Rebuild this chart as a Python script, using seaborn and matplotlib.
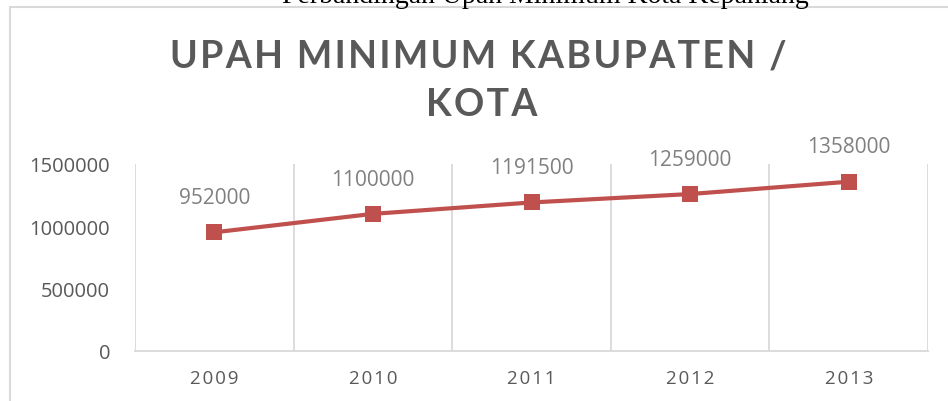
import matplotlib
matplotlib.use("Agg")
import matplotlib.pyplot as plt
import seaborn as sns
from matplotlib.patches import Rectangle

# data
years = ["2009", "2010", "2011", "2012", "2013"]
upah = [952000, 1100000, 1191500, 1259000, 1358000]
yticks = [0, 500000, 1000000, 1500000]

title_lines = ["UPAH MINIMUM KABUPATEN /", "KOTA"]
caption = "Perbandingan Upah Minimum Kota Kepahiang"

sns.set_theme(style="white")
plt.rcParams["font.family"] = ["Open Sans", "DejaVu Sans"]

grey_txt = "#595959"
grid_c = "#d9d9d9"
red = "#C0504D"
HS = "\u200a"  # hair space, fake letter spacing

fig = plt.figure(figsize=(9.48, 4.02), dpi=100)
ax = fig.add_axes([135 / 948, 1 - 352 / 402, (928 - 135) / 948, (352 - 165) / 402])

pos = list(range(len(years)))
sns.lineplot(x=pos, y=upah, ax=ax, color=red, linewidth=3, marker="s",
             markersize=12, markeredgecolor=red, markeredgewidth=0)

for x, v in zip(pos, upah):
    ax.annotate(str(v), (x, v), xytext=(0, 25), textcoords="offset points",
                ha="center", va="center", fontsize=15, color="#808080",
                annotation_clip=False)

ax.set_xlim(-0.5, len(years) - 0.5)
ax.set_ylim(0, 1500000)
ax.set_yticks(yticks)
ax.set_yticklabels([str(t) for t in yticks], fontsize=14.5, color=grey_txt)
ax.set_xticks(pos)
ax.set_xticklabels([HS.join(y) for y in years], fontsize=13.5, color=grey_txt)
ax.set_xticks([p - 0.5 for p in range(len(years) + 1)], minor=True)
ax.tick_params(axis="y", length=0, pad=18)
ax.tick_params(axis="x", which="major", length=0, pad=13)
ax.tick_params(axis="x", which="minor", length=6, width=1.3, color=grid_c, direction="out")
ax.grid(False)
ax.xaxis.grid(True, which="minor", color=grid_c, linewidth=1.3)
for s in ["top", "right", "left"]:
    ax.spines[s].set_visible(False)
ax.spines["bottom"].set_color(grid_c)
ax.spines["bottom"].set_linewidth(1.3)

# chart title
title_kw = dict(ha="center", va="center", fontsize=27, fontweight="bold",
                color=grey_txt, family=["Lato", "DejaVu Sans"])
fig.text(478 / 948, 1 - 57 / 402, HS.join(title_lines[0]), **title_kw)
fig.text(482 / 948, 1 - 105 / 402, HS.join(title_lines[1]), **title_kw)

# cut-off document text above the chart box
fig.text(545 / 948, 1 - 3 / 402, caption, ha="center", va="baseline",
         fontsize=20, family="Liberation Serif", color="black")

# chart outer border
fig.patches.append(Rectangle((9.5 / 948, -0.2), 2.0, 1.2 - 7.5 / 402,
                             transform=fig.transFigure, fill=False,
                             edgecolor=grid_c, linewidth=1.5))

fig.savefig("out.png", dpi=100)
